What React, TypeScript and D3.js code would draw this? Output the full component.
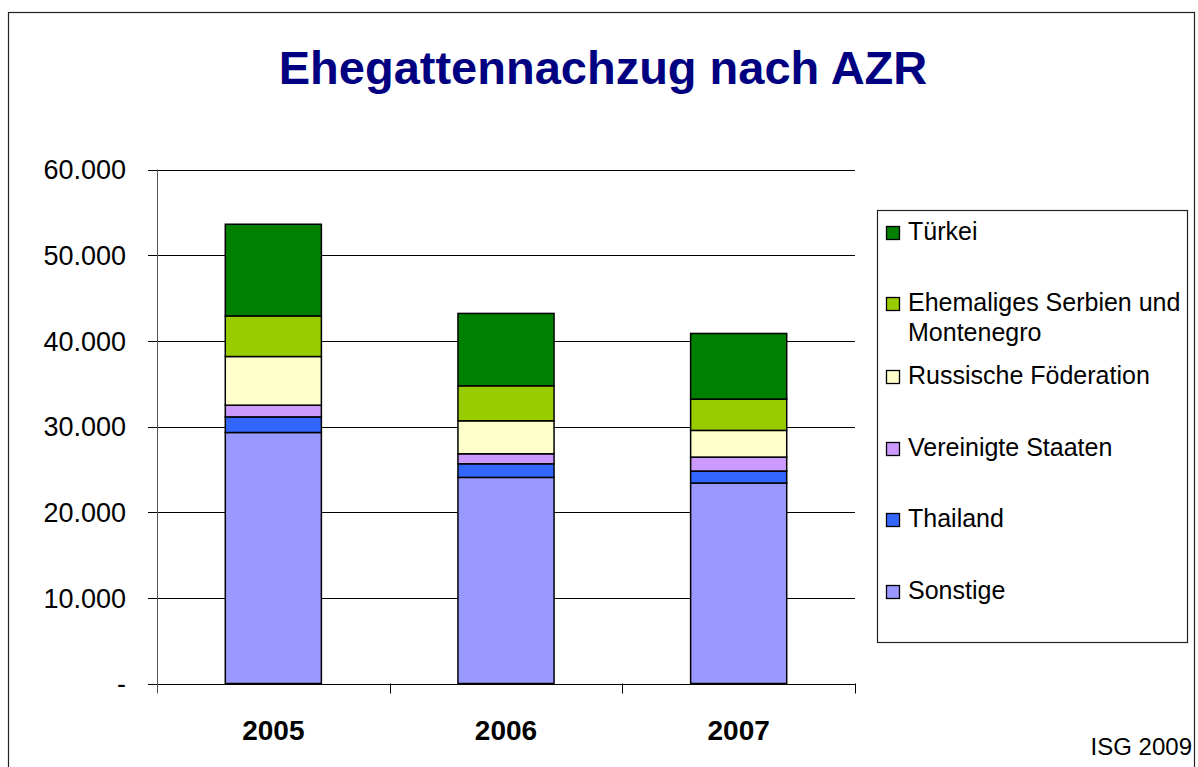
import React from "react";
import * as d3 from "d3";

const years = ["2005", "2006", "2007"];
const seriesNames = ["Sonstige", "Thailand", "Vereinigte Staaten", "Russische Föderation", "Ehemaliges Serbien und Montenegro", "Türkei"];
const sonstige = [29300, 24060, 23400];
const thailand = [1820, 1590, 1400];
const vereinigteStaaten = [1370, 1165, 1630];
const russischeFoederation = [5680, 3850, 3115];
const serbienMontenegro = [4740, 4085, 3655];
const tuerkei = [10700, 8450, 7660];
const seriesColors = ["#9999FF", "#3366FF", "#CC99FF", "#FFFFCC", "#99CC00", "#008000"];
const yTicks = [0, 10000, 20000, 30000, 40000, 50000, 60000];
const legendOrder = ["Türkei", "Ehemaliges Serbien und Montenegro", "Russische Föderation", "Vereinigte Staaten", "Thailand", "Sonstige"];
const legendLines: Record<string, string[]> = {
  "Ehemaliges Serbien und Montenegro": ["Ehemaliges Serbien und", "Montenegro"],
};

const FONT = "Arial, 'Liberation Sans', sans-serif";

export default function App() {
  const W = 1198, H = 767;
  const left = 157, right = 855, top = 169.5, bottom = 683.5;
  const values = [sonstige, thailand, vereinigteStaaten, russischeFoederation, serbienMontenegro, tuerkei];
  const rows = years.map((yr, i) => {
    const r: any = { year: yr };
    seriesNames.forEach((s, k) => (r[s] = values[k][i]));
    return r;
  });
  const stacked = d3.stack<any>().keys(seriesNames)(rows);
  const x = d3.scaleBand<string>().domain(years).range([left, right]).paddingInner(0.587).paddingOuter(0.2935);
  const y = d3.scaleLinear().domain([0, 60000]).range([bottom, top]);
  const color = d3.scaleOrdinal<string, string>().domain(seriesNames).range(seriesColors);
  const step = x.step();
  const fmt = (v: number) => (v === 0 ? "-" : d3.format(",")(v).replace(/,/g, "."));

  const legendBase = [240, 311, 384, 456, 527, 599];

  return (
    <svg width={W} height={H} style={{ position: "absolute", left: 0, top: 0, background: "#fff" }} fontFamily={FONT}>
      <rect x={0} y={0} width={W} height={H} fill="#fff" />
      <rect x={8.5} y={12.5} width={1186} height={H} fill="none" stroke="#222" strokeWidth={1.2} />
      <text x={603} y={84} textAnchor="middle" fontSize={47} fontWeight="bold" fill="#000080">
        Ehegattennachzug nach AZR
      </text>
      {yTicks.map((t) => (
        <g key={t}>
          <line x1={148} x2={right} y1={Math.round(y(t)) + 0.5} y2={Math.round(y(t)) + 0.5} stroke="#000" strokeWidth={1} />
          <text x={126} y={y(t)} dy="0.36em" textAnchor="end" fontSize={27} fill="#000">
            {fmt(t)}
          </text>
        </g>
      ))}
      <line x1={left + 0.5} x2={left + 0.5} y1={top} y2={bottom + 10} stroke="#555" strokeWidth={1} />
      {years.map((yr, i) => (
        <line key={yr} x1={Math.round(left + step * (i + 1)) + 0.5} x2={Math.round(left + step * (i + 1)) + 0.5} y1={bottom} y2={bottom + 10} stroke="#000" strokeWidth={1} />
      ))}
      {stacked.map((layer) => (
        <g key={layer.key}>
          {layer.map((d: any, i: number) => (
            <rect
              key={i}
              x={x(d.data.year)}
              y={y(d[1])}
              width={x.bandwidth()}
              height={y(d[0]) - y(d[1])}
              fill={color(layer.key)}
              stroke="#000"
              strokeWidth={1.5}
            />
          ))}
        </g>
      ))}
      {years.map((yr) => (
        <text key={yr} x={(x(yr) as number) + x.bandwidth() / 2} y={740} textAnchor="middle" fontSize={28} fontWeight="bold" fill="#000">
          {yr}
        </text>
      ))}
      <rect x={877.5} y={210.5} width={310} height={432} fill="#fff" stroke="#222" strokeWidth={1.2} />
      {legendOrder.map((name, i) => {
        const lines = legendLines[name] || [name];
        const b = legendBase[i];
        return (
          <g key={name}>
            <rect x={886.5} y={b - 13.5} width={13} height={13} fill={color(name)} stroke="#000" strokeWidth={1.3} />
            {lines.map((ln, j) => (
              <text key={j} x={908} y={b + j * 30} fontSize={25} fill="#000">
                {ln}
              </text>
            ))}
          </g>
        );
      })}
      <text x={1192} y={755} textAnchor="end" fontSize={24} fill="#000">
        ISG 2009
      </text>
    </svg>
  );
}
